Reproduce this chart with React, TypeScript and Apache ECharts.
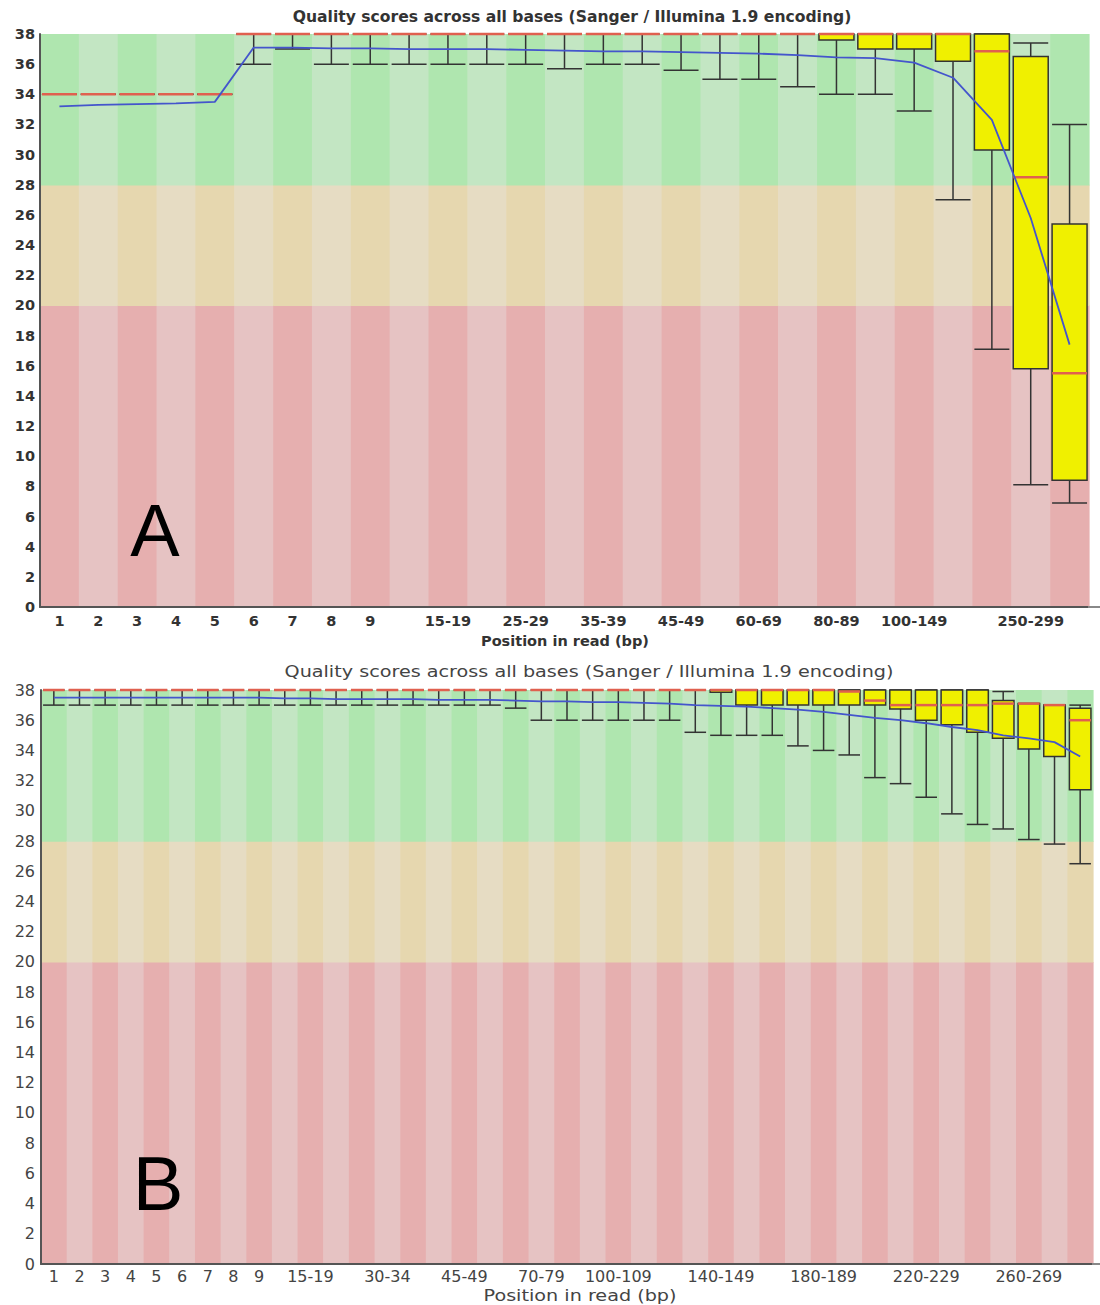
import React, { useEffect, useRef } from "react";
import * as echarts from "echarts";

// ---------- Chart A data ----------
const catsA = ["1","2","3","4","5","6","7","8","9","10-14","15-19","20-24","25-29","30-34","35-39","40-44","45-49","50-59","60-69","70-79","80-89","90-99","100-149","150-199","200-249","250-299","300-301"];
const labelIdxA = [0,1,2,3,4,5,6,7,8,10,12,14,16,18,20,22,25];
const lowA  = [34,34,34,34,34,36,37,36,36,36,36,36,36,35.7,36,36,35.6,35,35,34.5,34,34,32.9,27,17.1,8.1,6.9];
const q1A   = [34,34,34,34,34,38,38,38,38,38,38,38,38,38,38,38,38,38,38,38,37.6,37,37,36.2,30.3,15.8,8.4];
const medA  = [34,34,34,34,34,38,38,38,38,38,38,38,38,38,38,38,38,38,38,38,38,38,38,38,36.85,28.5,15.5];
const q3A   = [34,34,34,34,34,38,38,38,38,38,38,38,38,38,38,38,38,38,38,38,38,38,38,38,38,36.5,25.4];
const highA = [34,34,34,34,34,38,38,38,38,38,38,38,38,38,38,38,38,38,38,38,38,38,38,38,38,37.4,32];
const meanA = [33.2,33.3,33.35,33.4,33.5,37.1,37.1,37.05,37.05,37.0,37.0,37.0,36.95,36.9,36.85,36.85,36.8,36.75,36.7,36.6,36.45,36.4,36.1,35.1,32.3,25.8,17.4];

// ---------- Chart B data ----------
const catsB = ["1","2","3","4","5","6","7","8","9","10-14","15-19","20-24","25-29","30-34","35-39","40-44","45-49","50-59","60-69","70-79","80-89","90-99","100-109","110-119","120-129","130-139","140-149","150-159","160-169","170-179","180-189","190-199","200-209","210-219","220-229","230-239","240-249","250-259","260-269","270-279","280-289"];
const labelIdxB = [0,1,2,3,4,5,6,7,8,10,13,16,19,22,26,30,34,38];
const lowB  = [37,37,37,37,37,37,37,37,37,37,37,37,37,37,37,37,37,37,36.8,36,36,36,36,36,36,35.2,35.0,35.0,35.0,34.3,34.0,33.7,32.2,31.8,30.9,29.8,29.1,28.8,28.1,27.8,26.5];
const q1B   = [38,38,38,38,38,38,38,38,38,38,38,38,38,38,38,38,38,38,38,38,38,38,38,38,38,38,37.85,37,37,37,37,37,37,36.75,36.0,35.7,35.2,34.8,34.1,33.6,31.4];
const medB  = [38,38,38,38,38,38,38,38,38,38,38,38,38,38,38,38,38,38,38,38,38,38,38,38,38,38,38,38,38,38,38,37.9,37.3,37.0,37.0,37.0,37.0,37.1,37.1,37.0,36.0];
const q3B   = [38,38,38,38,38,38,38,38,38,38,38,38,38,38,38,38,38,38,38,38,38,38,38,38,38,38,38,38,38,38,38,38,38,38,38,38,38,37.3,37.1,37.0,36.8];
const highB = [38,38,38,38,38,38,38,38,38,38,38,38,38,38,38,38,38,38,38,38,38,38,38,38,38,38,38,38,38,38,38,38,38,38,38,38,38,37.9,37.1,37.0,37.0];
const meanB = [37.5,37.5,37.5,37.5,37.5,37.5,37.5,37.5,37.5,37.45,37.45,37.4,37.4,37.4,37.4,37.35,37.35,37.35,37.3,37.25,37.25,37.2,37.2,37.15,37.1,37.0,36.95,36.9,36.8,36.7,36.55,36.35,36.15,36.0,35.8,35.55,35.35,35.0,34.8,34.55,33.6];

// quality zones [from, to]
const zoneBounds = [[0, 20], [20, 28], [28, 38]];
const zoneDark = ["#e6afaf", "#e6d7af", "#afe6af"];
const zoneLight = ["#e6c3c3", "#e6dcc3", "#c3e6c3"];

const TITLE = "Quality scores across all bases (Sanger / Illumina 1.9 encoding)";
const XNAME = "Position in read (bp)";

function bgSeries(gi: number, cats: string[]) {
  return {
    type: "custom",
    xAxisIndex: gi,
    yAxisIndex: gi,
    z: 0,
    silent: true,
    data: cats.map((_, i) => [i, 0]),
    encode: { x: 0, y: 1 },
    renderItem: (params: any, api: any) => {
      const i = api.value(0);
      const w = api.size([1, 0])[0];
      const cx = api.coord([i, 0])[0];
      const children = zoneBounds.map((z, k) => {
        const yTop = api.coord([i, z[1]])[1];
        const yBot = api.coord([i, z[0]])[1];
        return {
          type: "rect",
          shape: { x: cx - w / 2, y: yTop, width: w + 0.6, height: yBot - yTop + 0.6 },
          style: { fill: i % 2 === 0 ? zoneDark[k] : zoneLight[k] },
        };
      });
      return { type: "group", children };
    },
  };
}

function boxSeries(gi: number, cats: string[], low: number[], q1: number[], med: number[], q3: number[], high: number[], frac: number) {
  return {
    type: "custom",
    xAxisIndex: gi,
    yAxisIndex: gi,
    z: 3,
    silent: true,
    data: cats.map((_, i) => [i, low[i], q1[i], med[i], q3[i], high[i]]),
    encode: { x: 0, y: [1, 2, 3, 4, 5] },
    renderItem: (params: any, api: any) => {
      const i = api.value(0);
      const w = api.size([1, 0])[0] * frac;
      const cx = api.coord([i, 0])[0];
      const Y = (d: number) => api.coord([i, api.value(d)])[1];
      const yl = Y(1), yq1 = Y(2), ym = Y(3), yq3 = Y(4), yh = Y(5);
      const st = { stroke: "#333333", lineWidth: 1.5 };
      const ch: any[] = [
        { type: "line", shape: { x1: cx, y1: yl, x2: cx, y2: yh }, style: st },
        { type: "line", shape: { x1: cx - w / 2, y1: yl, x2: cx + w / 2, y2: yl }, style: st },
        { type: "line", shape: { x1: cx - w / 2, y1: yh, x2: cx + w / 2, y2: yh }, style: st },
      ];
      if (yq1 - yq3 > 0.5) {
        ch.push({
          type: "rect",
          shape: { x: cx - w / 2, y: yq3, width: w, height: yq1 - yq3 },
          style: { fill: "#f0f000", stroke: "#333333", lineWidth: 1.5 },
        });
      }
      ch.push({
        type: "line",
        shape: { x1: cx - w / 2, y1: ym, x2: cx + w / 2, y2: ym },
        style: { stroke: "#e0604f", lineWidth: 2.5 },
      });
      return { type: "group", children: ch };
    },
  };
}

function meanSeries(gi: number, mean: number[]) {
  return {
    type: "line",
    xAxisIndex: gi,
    yAxisIndex: gi,
    z: 5,
    silent: true,
    data: mean,
    symbol: "none",
    lineStyle: { color: "#4455cc", width: 1.8 },
  };
}

export default function App() {
  const ref = useRef<HTMLDivElement>(null);
  useEffect(() => {
    if (!ref.current) return;
    const chart = echarts.init(ref.current, undefined, { renderer: "svg" });
    const fontA = { fontFamily: "DejaVu Sans", fontWeight: "bold" as const, color: "#333333" };
    const fontB = { fontFamily: "DejaVu Sans", fontWeight: "normal" as const, color: "#444444" };
    const option: any = {
      animation: false,
      backgroundColor: "#ffffff",
      grid: [
        { left: 40, top: 34, width: 1049, height: 573 },
        { left: 41, top: 690, width: 1052, height: 574 },
      ],
      xAxis: [
        {
          type: "category",
          gridIndex: 0,
          data: catsA,
          boundaryGap: true,
          axisLine: { lineStyle: { color: "#555555", width: 2 } },
          axisTick: { show: false },
          splitLine: { show: false },
          axisLabel: { ...fontA, fontSize: 14.5, margin: 6, interval: (idx: number) => labelIdxA.includes(idx) },
        },
        {
          type: "category",
          gridIndex: 1,
          data: catsB,
          boundaryGap: true,
          axisLine: { lineStyle: { color: "#555555", width: 2 } },
          axisTick: { show: false },
          splitLine: { show: false },
          axisLabel: { ...fontB, fontSize: 16, margin: 4, interval: (idx: number) => labelIdxB.includes(idx) },
        },
      ],
      yAxis: [
        {
          type: "value",
          gridIndex: 0,
          min: 0,
          max: 38,
          interval: 2,
          axisLine: { show: true, lineStyle: { color: "#555555", width: 2 } },
          axisTick: { show: false },
          splitLine: { show: false },
          axisLabel: { ...fontA, fontSize: 14.5, margin: 5 },
        },
        {
          type: "value",
          gridIndex: 1,
          min: 0,
          max: 38,
          interval: 2,
          axisLine: { show: true, lineStyle: { color: "#555555", width: 2 } },
          axisTick: { show: false },
          splitLine: { show: false },
          axisLabel: { ...fontB, fontSize: 16, margin: 6 },
        },
      ],
      graphic: [
        { type: "text", z: 100, x: 572, y: 17, scaleX: 1.04, style: { text: TITLE, ...fontA, fill: "#333333", fontSize: 15, textAlign: "center", textVerticalAlign: "middle" } },
        { type: "text", z: 100, x: 565, y: 641, style: { text: XNAME, ...fontA, fill: "#333333", fontSize: 14.5, textAlign: "center", textVerticalAlign: "middle" } },
        { type: "text", z: 100, x: 589, y: 672, scaleX: 1.2, style: { text: TITLE, ...fontB, fill: "#444444", fontSize: 16, textAlign: "center", textVerticalAlign: "middle" } },
        { type: "text", z: 100, x: 580, y: 1296, scaleX: 1.2, style: { text: XNAME, ...fontB, fill: "#444444", fontSize: 16, textAlign: "center", textVerticalAlign: "middle" } },
        { type: "text", z: 100, x: 155, y: 530, style: { text: "A", fontFamily: "Liberation Sans", fontSize: 74, fill: "#000000", textAlign: "center", textVerticalAlign: "middle" } },
        { type: "text", z: 100, x: 158, y: 1183, style: { text: "B", fontFamily: "Liberation Sans", fontSize: 76, fill: "#000000", textAlign: "center", textVerticalAlign: "middle" } },
        { type: "line", z: 100, shape: { x1: 1088, y1: 607, x2: 1100, y2: 607 }, style: { stroke: "#888888", lineWidth: 2 } },
        { type: "line", z: 100, shape: { x1: 1092, y1: 1264, x2: 1100, y2: 1264 }, style: { stroke: "#888888", lineWidth: 2 } },
      ],
      series: [
        bgSeries(0, catsA),
        boxSeries(0, catsA, lowA, q1A, medA, q3A, highA, 0.9),
        meanSeries(0, meanA),
        bgSeries(1, catsB),
        boxSeries(1, catsB, lowB, q1B, medB, q3B, highB, 0.84),
        meanSeries(1, meanB),
      ],
    };
    chart.setOption(option);
    return () => chart.dispose();
  }, []);
  return <div ref={ref} style={{ position: "absolute", left: 0, top: 0, width: 1100, height: 1305 }} />;
}
